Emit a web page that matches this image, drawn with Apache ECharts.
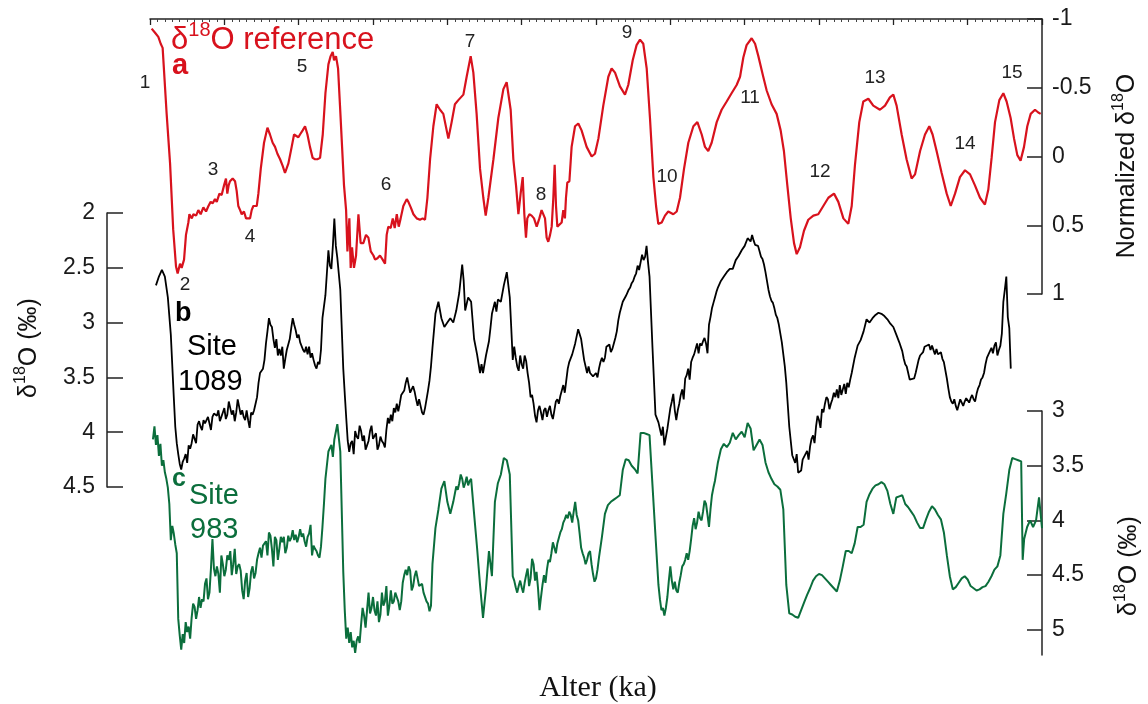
<!DOCTYPE html>
<html><head><meta charset="utf-8">
<script src="https://cdn.jsdelivr.net/npm/echarts@6/dist/echarts.min.js"></script>
<style>html,body{margin:0;padding:0;background:#fff}#c{width:1148px;height:704px}</style>
</head><body><div id="c"></div>
<script>
// ---- data: age (ka) and delta18O values ----
const redRef = [[1.1,-0.93],[3.4,-0.90],[5.6,-0.87],[7.2,-0.82],[8.5,-0.79],[9.4,-0.78],[11.2,-0.31],[13.5,0.05],[15.6,0.53],[17.5,0.80],[18.6,0.85],[20.2,0.78],[21.3,0.81],[22.9,0.75],[24.2,0.57],[25.8,0.48],[26.5,0.42],[28.1,0.45],[29.2,0.42],[31.0,0.43],[32.5,0.39],[34.1,0.42],[35.9,0.37],[37.7,0.40],[39.3,0.36],[40.8,0.33],[42.2,0.34],[43.7,0.31],[44.9,0.33],[46.7,0.27],[48.2,0.28],[49.8,0.21],[51.1,0.16],[52.0,0.27],[52.9,0.21],[53.8,0.18],[55.6,0.16],[57.2,0.18],[58.3,0.25],[59.4,0.36],[60.6,0.39],[61.7,0.42],[63.2,0.40],[64.6,0.45],[65.5,0.46],[67.3,0.45],[68.4,0.39],[69.5,0.36],[70.7,0.37],[71.8,0.36],[72.9,0.27],[74.5,0.09],[76.7,-0.10],[79.0,-0.21],[80.7,-0.16],[82.5,-0.10],[84.1,-0.07],[85.7,-0.02],[87.5,0.02],[89.3,0.07],[90.8,0.12],[93.1,0.05],[95.3,-0.07],[96.9,-0.16],[98.2,-0.17],[99.8,-0.14],[100.9,-0.16],[102.7,-0.19],[104.3,-0.22],[105.9,-0.16],[107.6,-0.07],[109.4,0.01],[111.0,0.02],[112.6,0.02],[114.4,0.01],[116.2,-0.16],[118.0,-0.46],[120.0,-0.67],[121.5,-0.73],[122.9,-0.76],[123.8,-0.70],[125.1,-0.73],[126.5,-0.64],[127.8,-0.37],[129.2,-0.07],[130.5,0.21],[131.9,0.39],[132.8,0.69],[134.1,0.45],[135.0,0.81],[135.9,0.66],[137.2,0.81],[138.6,0.72],[140.2,0.42],[141.7,0.63],[143.5,0.63],[145.3,0.57],[146.9,0.59],[148.5,0.69],[150.3,0.72],[151.4,0.75],[153.0,0.74],[154.7,0.72],[156.5,0.75],[158.1,0.78],[159.2,0.57],[160.3,0.51],[161.9,0.52],[163.3,0.45],[164.6,0.52],[166.0,0.42],[167.3,0.51],[168.6,0.45],[170.4,0.36],[171.5,0.36],[172.7,0.31],[173.8,0.33],[175.4,0.37],[177.2,0.42],[179.4,0.45],[181.6,0.46],[183.4,0.45],[185.0,0.46],[186.6,0.30],[188.4,0.02],[190.6,-0.22],[192.8,-0.38],[195.1,-0.34],
[197.3,-0.31],[200.7,-0.13],[202.9,-0.25],[205.1,-0.38],[207.4,-0.41],[210.8,-0.45],[213.0,-0.58],[215.7,-0.73],[217.5,-0.61],[219.7,-0.31],[222.0,0.09],[224.2,0.30],[225.8,0.43],[227.6,0.30],[231.0,0.02],[234.3,-0.28],[237.7,-0.49],[239.9,-0.54],[241.0,-0.55],[242.6,-0.34],[244.4,0.02],[246.2,0.21],[247.8,0.42],[249.3,0.27],[250.7,0.15],[251.8,0.42],[252.9,0.59],[253.8,0.45],[255.2,0.42],[256.7,0.43],[258.3,0.45],[260.1,0.51],[261.9,0.45],[263.4,0.39],[264.6,0.40],[265.7,0.45],[266.8,0.59],[267.9,0.62],[269.1,0.57],[270.2,0.51],[271.3,0.30],[272.2,0.06],[273.1,0.36],[274.0,0.51],[275.3,0.50],[276.9,0.48],[278.0,0.39],[279.1,0.45],[279.8,0.30],[280.7,0.19],[282.1,0.18],[283.6,-0.07],[285.9,-0.22],[288.1,-0.24],[290.3,-0.19],[293.7,-0.07],[297.1,0.00],[299.3,-0.02],[301.6,-0.13],[304.9,-0.37],[308.3,-0.58],[310.5,-0.64],[312.8,-0.61],[316.1,-0.51],[319.5,-0.45],[321.7,-0.52],[324.7,-0.70],[327.3,-0.81],[329.6,-0.85],[331.8,-0.82],[334.1,-0.64],[336.3,-0.28],[338.6,0.15],[340.4,0.36],[341.9,0.49],[344.2,0.48],[346.4,0.43],[348.6,0.40],[352.0,0.42],[354.3,0.40],[356.5,0.30],[359.2,0.09],[362.1,-0.10],[365.5,-0.22],[368.2,-0.25],[371.1,-0.16],[373.3,-0.07],[375.5,-0.04],[377.8,-0.10],[381.2,-0.25],[384.5,-0.34],[387.9,-0.40],[391.2,-0.46],[394.6,-0.52],
[396.9,-0.58],[399.1,-0.72],[401.3,-0.81],[404.7,-0.86],[407.0,-0.82],[409.2,-0.73],[412.5,-0.58],[414.8,-0.48],[418.1,-0.38],[421.5,-0.31],[424.2,-0.19],[426.4,-0.04],[428.7,0.21],[431.0,0.45],[433.2,0.63],[435.0,0.71],[437.2,0.66],[439.9,0.54],[442.8,0.46],[446.2,0.43],[449.5,0.42],[452.9,0.36],[456.3,0.30],[460.1,0.27],[463.0,0.33],[466.4,0.45],[469.7,0.49],[472.0,0.36],[474.2,0.06],[477.1,-0.25],[479.8,-0.40],[483.2,-0.42],[486.5,-0.37],[491.0,-0.34],[494.4,-0.37],[497.7,-0.43],[500.0,-0.45],[502.2,-0.37],[505.6,-0.16],[508.9,0.02],[512.3,0.16],[514.6,0.13],[518.0,-0.04],[521.3,-0.16],[524.2,-0.22],[526.4,-0.16],[529.1,-0.04],[532.5,0.12],[535.9,0.27],[538.6,0.36],[541.5,0.27],[544.8,0.15],[548.2,0.10],[551.6,0.13],[554.9,0.21],[558.3,0.30],[561.6,0.35],[563.9,0.24],[566.1,0.01],[568.4,-0.25],[571.3,-0.41],[574.0,-0.46],[576.2,-0.40],[578.9,-0.28],[581.2,-0.13],[583.4,-0.01],[585.6,0.03],[587.9,-0.07],[590.1,-0.22],[592.4,-0.31],[595.3,-0.34],[597.5,-0.32],[599.1,-0.31]];

const site1089 = [[4,2.66],[6,2.58],[8,2.52],[10,2.58],[12,2.77],[14,3.11],[16,3.68],[17,3.95],[18,4.10],[19,4.20],[20,4.29],[21,4.34],[22,4.27],[23,4.24],[24,4.20],[25,4.28],[26,4.12],[27,4.15],[28,4.10],[29,4.02],[30,4.01],[31,4.10],[32,3.93],[33,3.90],[34,3.95],[35,3.98],[36,3.89],[37,3.92],[38,3.93],[39,3.86],[40,3.87],[41,3.98],[42,3.86],[43,3.83],[44,3.82],[45,3.85],[46,3.80],[47,3.90],[48,3.86],[49,3.82],[50,3.78],[51,3.88],[52,3.84],[53,3.72],[54,3.78],[55,3.84],[56,3.80],[57,3.90],[58,3.82],[59,3.70],[60,3.70],[61,3.84],[62,3.80],[63,3.86],[64,3.89],[65,3.80],[66,3.89],[67,3.96],[68,3.82],[69,3.84],[70,3.80],[71,3.74],[72,3.68],[73,3.55],[74,3.46],[76,3.42],[77,3.34],[78,3.19],[79,3.08],[80,2.96],[81,3.02],[82,3.04],[83,3.15],[84,3.23],[85,3.15],[86,3.30],[87,3.24],[88,3.30],[89,3.22],[90,3.42],[91,3.33],[92,3.25],[93,3.20],[94,3.15],[95,3.05],[96,2.96],[97,3.02],[98,3.07],[99,3.14],[100,3.11],[101,3.18],[102,3.17],[103,3.25],[104,3.27],[105,3.22],[106,3.29],[107,3.22],[108,3.32],[109,3.28],[110,3.34],[111,3.39],[112,3.42],[113,3.36],[114,3.38],[115,3.25],[116,2.96],[118,2.75],[120,2.34],[121,2.48],[122,2.51],[123,2.30],[124,2.05],[125,2.30],[126,2.41],[128,2.70],[130,3.42],[131,3.65],[132,3.87],[133,4.08],[134,4.18],[135,4.10],[136,4.08],[137,4.20],[138,3.99],[139,4.04],[140,4.06],[141,3.94],[142,3.99],[143,4.08],[144,4.03],[145,4.16],[146,4.12],[147,4.08],[148,3.99],[149,3.94],[150,4.06],[151,4.06],[152,4.01],[153,4.16],[154,4.12],[155,4.04],[156,4.08],[157,4.10],[158,4.14],[159,3.98],[160,3.87],[161,3.92],[162,3.84],[163,3.90],[164,3.78],[165,3.82],[166,3.74],[167,3.81],[168,3.74],[169,3.66],[170,3.65],[171,3.62],[172,3.55],[173,3.50],[174,3.57],[175,3.64],[176,3.65],[177,3.58],[178,3.63],[179,3.70],[180,3.76],[181,3.70],[182,3.76],[183,3.82],[184,3.84],[185,3.78],[186,3.70],[187,3.62],[188,3.53],[189,3.40],[190,3.23],[192,2.92],[194,2.81],[196,2.96],[198,3.04],[200,3.00],[202,2.96],
[204,3.00],[206,2.89],[208,2.73],[210,2.47],[211,2.62],[212,2.89],[214,2.77],[216,2.81],[218,3.15],[220,3.29],[222,3.46],[223,3.38],[224,3.46],[226,3.30],[228,3.17],[229,3.05],[230,2.92],[232,2.81],[233,2.90],[234,2.79],[236,2.81],[238,2.66],[240,2.54],[242,2.77],[243,3.05],[244,3.34],[245,3.22],[246,3.32],[247,3.40],[248,3.44],[249,3.30],[250,3.38],[251,3.42],[252,3.30],[253,3.35],[254,3.46],[255,3.55],[256,3.68],[257,3.66],[258,3.74],[259,3.85],[260,3.91],[261,3.80],[262,3.76],[263,3.82],[264,3.89],[265,3.80],[266,3.78],[267,3.86],[268,3.80],[269,3.76],[270,3.84],[271,3.88],[272,3.80],[273,3.72],[274,3.70],[275,3.74],[276,3.67],[277,3.62],[278,3.57],[279,3.64],[280,3.53],[281,3.42],[282,3.36],[284,3.29],[286,3.19],[288,3.06],[290,3.15],[292,3.34],[294,3.46],[295,3.40],[296,3.46],[298,3.49],[300,3.46],[301,3.50],[302,3.42],[303,3.36],[304,3.32],[305,3.36],[306,3.32],[307,3.22],[308,3.23],[309,3.20],[310,3.27],[311,3.24],[312,3.19],[313,3.14],[314,3.08],[315,2.98],[316,2.91],[317,2.86],[318,2.81],[319,2.80],[320,2.76],[321,2.73],[322,2.70],[323,2.68],[324,2.64],[325,2.62],[326,2.58],[327,2.55],[328,2.48],[329,2.52],[330,2.51],[331,2.38],[332,2.43],[333,2.40],[334,2.30],[335,2.45],[336,2.58],[338,3.23],[340,3.84],[342,3.91],[344,4.03],[345,3.95],[346,4.12],[348,3.97],[350,3.78],[351,3.72],[352,3.65],[353,3.80],[354,3.89],[355,3.80],[356,3.74],[357,3.66],[358,3.61],[359,3.70],[360,3.51],[361,3.48],[362,3.42],[363,3.52],[364,3.36],[365,3.32],[366,3.29],[367,3.24],[368,3.19],[369,3.28],[370,3.19],[371,3.21],[372,3.17],[373,3.14],[374,3.19],[375,3.28],[376,3.02],[377,2.95],[378,2.87],[379,2.82],[380,2.77],[381,2.72],[382,2.68],[384,2.62],[386,2.58],[388,2.54],[390,2.51],[392,2.51],[394,2.43],[396,2.39],[398,2.34],[400,2.30],
[402,2.23],[404,2.26],[405,2.20],[406,2.25],[407,2.29],[408,2.28],[409,2.30],[410,2.35],[411,2.40],[412,2.42],[413,2.47],[414,2.54],[415,2.62],[416,2.70],[417,2.76],[418,2.80],[419,2.82],[420,2.87],[421,2.93],[422,2.96],[423,3.02],[424,3.10],[425,3.18],[426,3.29],[427,3.40],[428,3.55],[430,3.95],[432,4.21],[434,4.28],[435,4.20],[436,4.37],[438,4.35],[439,4.25],[440,4.24],[442,4.17],[443,4.25],[444,4.13],[445,4.06],[446,4.03],[447,4.10],[448,3.95],[449,3.85],[450,3.89],[451,3.96],[452,3.79],[453,3.82],[454,3.74],[455,3.68],[456,3.70],[457,3.79],[458,3.74],[459,3.70],[460,3.64],[461,3.68],[462,3.61],[463,3.69],[464,3.57],[465,3.66],[466,3.61],[467,3.56],[468,3.65],[469,3.55],[470,3.59],[471,3.52],[472,3.46],[474,3.32],[476,3.21],[478,3.16],[480,3.08],[482,2.97],[484,3.00],[486,2.96],[488,2.93],[490,2.91],[492,2.92],[494,2.94],[496,2.97],[498,3.01],[500,3.04],[502,3.11],[503,3.12],[504,3.18],[506,3.26],[507,3.33],[508,3.38],[509,3.40],[510,3.46],[511,3.52],[512,3.51],[514,3.51],[515,3.46],[516,3.40],[517,3.34],[518,3.30],[520,3.27],[521,3.22],[522,3.23],[524,3.20],[525,3.25],[526,3.21],[528,3.29],[529,3.24],[530,3.29],[532,3.27],[533,3.33],[534,3.36],[536,3.51],[537,3.60],[538,3.68],[539,3.72],[540,3.74],[541,3.70],[542,3.76],[543,3.80],[544,3.75],[545,3.70],[546,3.73],[547,3.76],[548,3.72],[549,3.69],[550,3.70],[551,3.73],[552,3.69],[553,3.66],[554,3.70],[555,3.72],[556,3.65],[557,3.60],[558,3.57],[559,3.52],[560,3.50],[561,3.46],[562,3.38],[563,3.32],[564,3.29],[565,3.26],[566,3.23],[567,3.28],[568,3.21],[569,3.18],[570,3.30],[571,3.25],[572,3.21],[573,3.10],[574,2.81],[575,2.70],[576,2.58],[577,2.95],[578,3.05],[579,3.42]];

const site983 = [[2,3.26],[3,3.14],[4,3.31],[5,3.22],[6,3.41],[7,3.30],[8,3.50],[9,3.45],[10,3.56],[11,3.62],[12,3.70],[13,3.85],[14,4.18],[15,4.05],[16,4.12],[17,4.22],[18,4.30],[19,4.90],[20,5.05],[21,5.18],[22,5.04],[23,5.12],[24,4.93],[25,5.02],[26,4.97],[27,5.08],[28,4.89],[29,4.76],[30,4.79],[31,4.90],[32,4.82],[33,4.70],[34,4.80],[35,4.72],[36,4.74],[37,4.58],[38,4.53],[39,4.72],[40,4.66],[41,4.44],[42,4.17],[43,4.44],[44,4.51],[45,4.42],[46,4.49],[47,4.66],[48,4.32],[49,4.40],[50,4.51],[51,4.45],[52,4.32],[53,4.36],[54,4.28],[55,4.50],[56,4.40],[57,4.26],[58,4.49],[59,4.42],[60,4.40],[61,4.46],[62,4.64],[63,4.72],[64,4.55],[65,4.48],[66,4.70],[67,4.62],[68,4.47],[69,4.42],[70,4.53],[71,4.48],[72,4.36],[73,4.30],[74,4.25],[75,4.34],[76,4.23],[77,4.24],[78,4.19],[79,4.32],[80,4.11],[81,4.14],[82,4.26],[83,4.42],[84,4.15],[85,4.18],[86,4.36],[87,4.26],[88,4.15],[89,4.20],[90,4.15],[91,4.30],[92,4.25],[93,4.14],[94,4.19],[95,4.16],[96,4.09],[97,4.18],[98,4.13],[99,4.20],[100,4.15],[101,4.08],[102,4.15],[103,4.12],[104,4.19],[105,4.24],[106,4.15],[107,4.12],[108,4.04],[109,4.32],[110,4.23],[111,4.26],[112,4.28],[113,4.32],[114,4.34],[115,4.24],[116,4.06],[117,3.85],[118,3.62],[120,3.37],[122,3.31],[123,3.42],[124,3.26],[126,3.12],[128,3.37],[130,4.47],[131,4.82],[132,5.08],[133,4.98],[134,5.12],[135,5.02],[136,5.16],[137,5.10],[138,5.21],[139,5.10],[140,5.06],[141,5.12],[142,4.95],[143,4.80],[144,4.87],[145,4.98],[146,4.82],[147,4.66],[148,4.85],[149,4.80],[150,4.70],[151,4.82],[152,4.87],[153,4.74],[154,4.93],[155,4.86],[156,4.66],[157,4.78],[158,4.74],[159,4.60],[160,4.87],[161,4.78],[162,4.64],[163,4.76],[164,4.74],[165,4.66],[166,4.70],[167,4.74],[168,4.82],[169,4.74],[170,4.57],[171,4.50],[172,4.45],[173,4.50],[174,4.42],[175,4.46],[176,4.64],[177,4.60],[178,4.51],[179,4.46],[180,4.53],[181,4.60],[182,4.59],[183,4.58],[184,4.66],[185,4.66],[186,4.74],[187,4.76],[188,4.83],[189,4.78],[190,4.40],[192,4.07],[194,3.90],[196,3.71],[198,3.64],[200,3.83],[202,3.94],
[204,3.83],[205,3.76],[206,3.69],[207,3.72],[208,3.66],[209,3.58],[210,3.62],[211,3.70],[212,3.66],[213,3.60],[214,3.68],[215,3.64],[216,3.62],[218,3.94],[220,4.25],[222,4.59],[224,4.89],[226,4.62],[228,4.28],[230,4.51],[232,3.83],[234,3.66],[236,3.58],[238,3.43],[240,3.45],[242,3.58],[244,4.51],[245,4.55],[246,4.61],[247,4.66],[248,4.60],[249,4.55],[250,4.61],[251,4.66],[252,4.57],[253,4.50],[254,4.44],[255,4.60],[256,4.53],[257,4.35],[258,4.40],[259,4.55],[260,4.47],[261,4.62],[262,4.82],[263,4.70],[264,4.59],[265,4.50],[266,4.57],[267,4.45],[268,4.36],[269,4.38],[270,4.30],[271,4.20],[272,4.25],[273,4.30],[274,4.21],[275,4.16],[276,4.11],[277,4.08],[278,4.02],[279,3.99],[280,3.95],[281,3.98],[282,3.92],[283,3.95],[284,4.02],[285,3.92],[286,3.83],[287,3.95],[288,4.00],[289,4.12],[290,4.25],[291,4.30],[292,4.34],[293,4.40],[294,4.36],[295,4.30],[296,4.28],[297,4.40],[298,4.49],[299,4.56],[300,4.53],[301,4.45],[302,4.34],[304,4.15],[306,3.94],[308,3.86],[310,3.83],[312,3.81],[314,3.79],[316,3.77],[318,3.54],[320,3.44],[322,3.45],[324,3.50],[326,3.53],[328,3.57],[330,3.20],[332,3.20],[334,3.21],[336,3.22],[338,3.68],[340,4.14],[342,4.59],[343,4.72],[344,4.82],[345,4.80],[346,4.87],[347,4.80],[348,4.70],[349,4.55],[350,4.42],[351,4.55],[352,4.63],[353,4.56],[354,4.64],[355,4.66],[356,4.57],[357,4.50],[358,4.42],[359,4.40],[360,4.36],[361,4.30],[362,4.36],[363,4.28],[364,4.17],[365,4.05],[366,3.98],[367,4.08],[368,4.02],[369,3.92],[370,3.98],[371,4.00],[372,3.92],[373,3.82],[374,3.85],[375,3.95],[376,4.06],[377,3.90],[378,3.77],[379,3.70],[380,3.64],[382,3.47],[384,3.35],[386,3.30],[388,3.33],[390,3.29],[392,3.20],[394,3.26],[396,3.22],[398,3.19],[400,3.24],
[402,3.11],[404,3.16],[406,3.36],[408,3.31],[410,3.26],[412,3.31],[414,3.47],[416,3.56],[418,3.62],[420,3.67],[422,3.69],[424,3.72],[426,3.90],[428,4.59],[430,4.85],[432,4.86],[434,4.88],[436,4.89],[438,4.82],[440,4.75],[442,4.68],[444,4.62],[446,4.55],[448,4.51],[450,4.49],[452,4.50],[454,4.53],[456,4.56],[458,4.59],[460,4.62],[462,4.65],[464,4.55],[466,4.42],[468,4.28],[470,4.28],[472,4.30],[474,4.21],[476,4.06],[478,4.06],[480,4.04],[482,3.83],[484,3.76],[486,3.71],[488,3.68],[490,3.67],[492,3.65],[494,3.67],[496,3.73],[498,3.85],[500,3.94],[502,3.79],[504,3.78],[506,3.77],[508,3.85],[510,3.88],[512,3.92],[514,3.96],[516,4.02],[518,4.07],[520,4.07],[522,3.99],[524,3.92],[526,3.87],[528,3.90],[530,3.95],[532,3.99],[534,4.11],[536,4.32],[538,4.51],[540,4.63],[542,4.61],[544,4.57],[546,4.53],[548,4.51],[550,4.54],[552,4.60],[554,4.62],[556,4.64],[558,4.63],[560,4.61],[562,4.60],[564,4.56],[566,4.51],[568,4.45],[570,4.42],[572,4.32],[574,3.94],[576,3.75],[578,3.54],[580,3.43],[582,3.44],[584,3.45],[586,3.46],[587,4.36],[588,4.17],[590,4.06],[592,4.00],[594,4.06],[596,4.00],[598,3.79],[600,4.07]];

// tick values
const ageRange = [0, 600];
const refTicks = [-1, -0.5, 0, 0.5, 1];
const site1089Ticks = [2, 2.5, 3, 3.5, 4, 4.5];
const site983Ticks = [3, 3.5, 4, 4.5, 5];
const misLabels = ['1','2','3','4','5','6','7','8','9','10','11','12','13','14','15'];

// ---- layout / style ----
const misPos = [[145,83],[185,285],[213,170],[250,237],[302,67],[386,185],[470,42],[541,195],[627,33],[667,177],[750,98],[820,172],[875,78],[965,144],[1012,73]];
const FF = '"Liberation Sans", Arial, Helvetica, sans-serif';
const AX = '#222';
const RED = '#d8121d';
const GREEN = '#0b6e3c';
const BLACK = '#000';
const TICKFONT = 23;

function yAxisBase(extra) {
  return Object.assign({
    type: 'value', inverse: true, splitLine: {show: false},
    axisLine: {show: true, onZero: false, lineStyle: {color: AX, width: 1.5}},
    axisTick: {show: true, inside: true, length: 15, lineStyle: {color: AX, width: 1.5}},
    axisLabel: {show: true, fontSize: TICKFONT, fontFamily: FF, color: '#1a1a1a', margin: 10}
  }, extra);
}
function hiddenX(i) {
  return {gridIndex: i, type: 'value', min: ageRange[0], max: ageRange[1], show: false};
}
function sup(text, color, size, supSize) {
  return {
    text: text,
    rich: {
      n: {fontSize: size, fontFamily: FF, fill: color, verticalAlign: 'bottom', lineHeight: size * 1.15},
      s: {fontSize: supSize, fontFamily: FF, fill: color, verticalAlign: 'top', lineHeight: supSize * 1.1}
    }
  };
}

const graphics = [];
misLabels.forEach((t, i) => {
  graphics.push({type: 'text', x: misPos[i][0], y: misPos[i][1],
    style: {text: t, fill: '#222', font: '19px ' + FF, align: 'center', verticalAlign: 'middle'}});
});
graphics.push({type: 'text', x: 171, y: 38, style: Object.assign(sup('{n|δ}{s|18}{n|O reference}', RED, 31, 20), {align: 'left', verticalAlign: 'middle'})});
graphics.push({type: 'text', x: 172, y: 66, style: {text: 'a', fill: RED, font: 'bold 29px ' + FF, align: 'left', verticalAlign: 'middle'}});
graphics.push({type: 'text', x: 175, y: 314, style: {text: 'b', fill: BLACK, font: 'bold 27px ' + FF, align: 'left', verticalAlign: 'middle'}});
graphics.push({type: 'text', x: 187, y: 347, style: {text: 'Site', fill: BLACK, font: '29px ' + FF, align: 'left', verticalAlign: 'middle'}});
graphics.push({type: 'text', x: 178, y: 382, style: {text: '1089', fill: BLACK, font: '29px ' + FF, align: 'left', verticalAlign: 'middle'}});
graphics.push({type: 'text', x: 172, y: 479, style: {text: 'c', fill: GREEN, font: 'bold 25px ' + FF, align: 'left', verticalAlign: 'middle'}});
graphics.push({type: 'text', x: 189, y: 496, style: {text: 'Site', fill: GREEN, font: '29px ' + FF, align: 'left', verticalAlign: 'middle'}});
graphics.push({type: 'text', x: 190, y: 530, style: {text: '983', fill: GREEN, font: '29px ' + FF, align: 'left', verticalAlign: 'middle'}});
graphics.push({type: 'text', x: 27, y: 348, rotation: Math.PI / 2,
  style: Object.assign(sup('{n|δ}{s|18}{n|O (‰)}', '#111', 25, 16), {align: 'center', verticalAlign: 'middle'})});
graphics.push({type: 'text', x: 1125, y: 166, rotation: Math.PI / 2,
  style: Object.assign(sup('{n|Normalized δ}{s|18}{n|O}', '#111', 25, 16), {align: 'center', verticalAlign: 'middle'})});
graphics.push({type: 'text', x: 1127, y: 566, rotation: Math.PI / 2,
  style: Object.assign(sup('{n|δ}{s|18}{n|O (‰)}', '#111', 25, 16), {align: 'center', verticalAlign: 'middle'})});
graphics.push({type: 'text', x: 598, y: 688,
  style: {text: 'Alter (ka)', fill: '#111', font: '30px "Liberation Serif", "Times New Roman", serif', align: 'center', verticalAlign: 'middle'}});

const chart = echarts.init(document.getElementById('c'), null, {renderer: 'canvas'});
chart.setOption({
  animation: false,
  backgroundColor: '#fff',
  grid: [
    {left: 150, right: 106, top: 19, height: 275},
    {left: 150, right: 106, top: 213, height: 274},
    {left: 150, right: 106, top: 411, bottom: 49}
  ],
  xAxis: [
    {gridIndex: 0, type: 'value', position: 'top', min: ageRange[0], max: ageRange[1], interval: 50,
     axisLine: {show: true, onZero: false, lineStyle: {color: AX, width: 1.5}},
     axisTick: {show: true, inside: true, length: 6, lineStyle: {color: AX, width: 1.3}},
     minorTick: {show: true, splitNumber: 10, length: 3, lineStyle: {color: '#444', width: 1}},
     axisLabel: {show: false}, splitLine: {show: false}, minorSplitLine: {show: false}},
    hiddenX(1), hiddenX(2)
  ],
  yAxis: [
    yAxisBase({gridIndex: 0, position: 'right', min: refTicks[0], max: refTicks[refTicks.length - 1], interval: 0.5}),
    yAxisBase({gridIndex: 1, position: 'left', offset: 43, min: site1089Ticks[0], max: site1089Ticks[site1089Ticks.length - 1], interval: 0.5,
      axisTick: {show: true, inside: true, length: 16, lineStyle: {color: AX, width: 1.5}},
      axisLabel: {show: true, fontSize: TICKFONT, fontFamily: FF, color: '#1a1a1a', margin: 12}}),
    yAxisBase({gridIndex: 2, position: 'right', min: 3, max: 5.23,
      axisTick: {show: true, inside: true, length: 15, customValues: site983Ticks, lineStyle: {color: AX, width: 1.5}},
      axisLabel: {show: true, fontSize: TICKFONT, fontFamily: FF, color: '#1a1a1a', margin: 10, customValues: site983Ticks}})
  ],
  series: [
    {type: 'line', name: 'reference', xAxisIndex: 0, yAxisIndex: 0, data: redRef, showSymbol: false, clip: false,
     lineStyle: {color: RED, width: 2.2}, itemStyle: {color: RED}},
    {type: 'line', name: 'Site 1089', xAxisIndex: 1, yAxisIndex: 1, data: site1089, showSymbol: false, clip: false,
     lineStyle: {color: BLACK, width: 1.8}, itemStyle: {color: BLACK}},
    {type: 'line', name: 'Site 983', xAxisIndex: 2, yAxisIndex: 2, data: site983, showSymbol: false, clip: false,
     lineStyle: {color: GREEN, width: 2}, itemStyle: {color: GREEN}}
  ],
  graphic: graphics
});
</script></body></html>
